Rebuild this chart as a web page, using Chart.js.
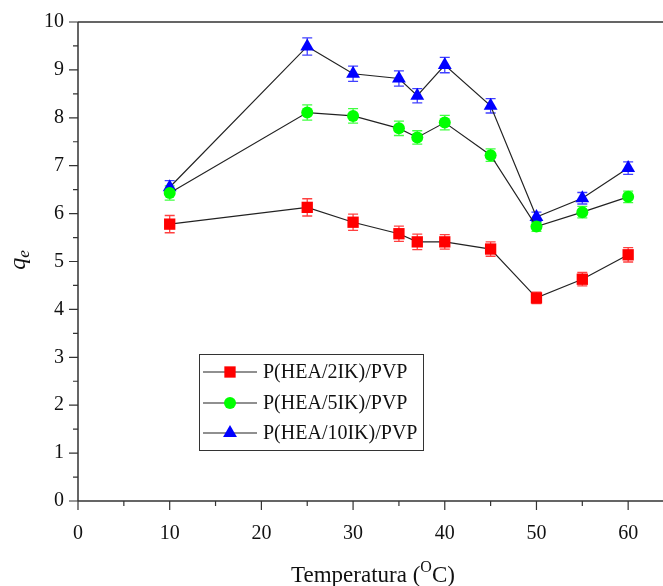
<!DOCTYPE html>
<html>
<head>
<meta charset="utf-8">
<script src="https://cdn.jsdelivr.net/npm/chart.js@4"></script>
<style>
  html, body { margin: 0; padding: 0; background: #fff; overflow: hidden; }
  #wrap { width: 663px; height: 586px; }
  canvas { display: block; }
</style>
</head>
<body>
<div id="wrap"><canvas id="c" width="663" height="586"></canvas></div>
<script>
// temperaturas (°C)
const temps = [10, 25, 30, 35, 37, 40, 45, 50, 55, 60];

// qe por formulación
const qe2IK  = [5.78, 6.13, 5.82, 5.58, 5.41, 5.41, 5.26, 4.24, 4.63, 5.14];
const qe5IK  = [6.43, 8.11, 8.04, 7.78, 7.59, 7.90, 7.22, 5.73, 6.03, 6.35];
const qe10IK = [6.55, 9.49, 8.92, 8.82, 8.46, 9.10, 8.25, 5.93, 6.32, 6.95];

// barras de error
const err2IK  = [0.18, 0.18, 0.17, 0.16, 0.16, 0.15, 0.15, 0.12, 0.14, 0.15];
const err5IK  = [0.15, 0.16, 0.15, 0.15, 0.14, 0.15, 0.13, 0.10, 0.12, 0.12];
const err10IK = [0.14, 0.18, 0.16, 0.16, 0.15, 0.16, 0.15, 0.10, 0.12, 0.13];

const seriesNames = ['P(HEA/2IK)/PVP', 'P(HEA/5IK)/PVP', 'P(HEA/10IK)/PVP'];

// ticks
const xTicks = [0, 10, 20, 30, 40, 50, 60];
const xMinor = [5, 15, 25, 35, 45, 55];
const yTicks = [0, 1, 2, 3, 4, 5, 6, 7, 8, 9, 10];
const yMinor = [0.5, 1.5, 2.5, 3.5, 4.5, 5.5, 6.5, 7.5, 8.5, 9.5];

const SERIF = '"Liberation Serif", "Times New Roman", serif';
const AXIS = '#333';

function pts(ys) {
    return temps.map((t, i) => ({ x: t, y: ys[i] }));
}

function mkSet(label, ys, errs, color, style, radius) {
    return {
        label: label,
        data: pts(ys),
        errors: errs,
        borderColor: '#222',
        borderWidth: 1.2,
        pointStyle: style,
        pointRadius: radius,
        pointHoverRadius: radius,
        pointBackgroundColor: color,
        pointBorderColor: color,
        pointBorderWidth: 0,
        tension: 0,
        fill: false
    };
}

// barras de error (debajo de los marcadores)
const errorBars = {
    id: 'errorBars',
    beforeDatasetsDraw: (chart) => {
        const ctx = chart.ctx;
        const xs = chart.scales.x, ys = chart.scales.y;
        chart.data.datasets.forEach((ds) => {
            ctx.save();
            ctx.strokeStyle = ds.pointBackgroundColor;
            ctx.globalAlpha = 0.75;
            ctx.lineWidth = 1.3;
            ds.data.forEach((p, i) => {
                const e = ds.errors[i];
                const px = xs.getPixelForValue(p.x);
                const top = ys.getPixelForValue(p.y + e);
                const bot = ys.getPixelForValue(p.y - e);
                ctx.beginPath();
                ctx.moveTo(px, top); ctx.lineTo(px, bot);
                ctx.moveTo(px - 5, top); ctx.lineTo(px + 5, top);
                ctx.moveTo(px - 5, bot); ctx.lineTo(px + 5, bot);
                ctx.stroke();
            });
            ctx.restore();
        });
    }
};

// marco, marcas de ejes, leyenda y títulos
const frame = {
    id: 'frame',
    afterDraw: (chart) => {
        const ctx = chart.ctx;
        const a = chart.chartArea;
        const xs = chart.scales.x, ys = chart.scales.y;

        ctx.save();
        ctx.strokeStyle = AXIS;
        ctx.lineWidth = 1.5;
        ctx.beginPath();
        ctx.moveTo(a.left, a.top); ctx.lineTo(a.right, a.top);
        ctx.moveTo(a.left, a.top); ctx.lineTo(a.left, a.bottom);
        ctx.moveTo(a.left, a.bottom); ctx.lineTo(a.right, a.bottom);
        ctx.stroke();

        ctx.lineWidth = 1.2;
        ctx.beginPath();
        xTicks.forEach(v => { const p = xs.getPixelForValue(v); ctx.moveTo(p, a.bottom); ctx.lineTo(p, a.bottom + 9); });
        xMinor.forEach(v => { const p = xs.getPixelForValue(v); ctx.moveTo(p, a.bottom); ctx.lineTo(p, a.bottom + 5); });
        yTicks.forEach(v => { const p = ys.getPixelForValue(v); ctx.moveTo(a.left, p); ctx.lineTo(a.left - 9, p); });
        yMinor.forEach(v => { const p = ys.getPixelForValue(v); ctx.moveTo(a.left, p); ctx.lineTo(a.left - 5, p); });
        ctx.stroke();
        ctx.restore();

        // leyenda
        ctx.save();
        ctx.strokeStyle = AXIS;
        ctx.lineWidth = 1;
        ctx.strokeRect(199.5, 354.5, 224, 96);
        const rowY = [372, 403, 433];
        chart.data.datasets.forEach((ds, i) => {
            const y = rowY[i];
            ctx.strokeStyle = '#222';
            ctx.lineWidth = 1.2;
            ctx.beginPath();
            ctx.moveTo(203, y); ctx.lineTo(257, y);
            ctx.stroke();
            ctx.fillStyle = ds.pointBackgroundColor;
            ctx.strokeStyle = ds.pointBackgroundColor;
            Chart.helpers.drawPoint(ctx, { pointStyle: ds.pointStyle, radius: ds.pointRadius, rotation: 0, borderWidth: 0 }, 230, y);
            ctx.fillStyle = '#111';
            ctx.font = '20px ' + SERIF;
            ctx.textAlign = 'left';
            ctx.textBaseline = 'middle';
            ctx.fillText(seriesNames[i], 263, y + 1);
        });
        ctx.restore();

        // título eje x con superíndice
        ctx.save();
        ctx.fillStyle = '#111';
        ctx.textBaseline = 'alphabetic';
        ctx.textAlign = 'left';
        const big = '23px ' + SERIF, small = '16px ' + SERIF;
        const s1 = 'Temperatura (', s2 = 'O', s3 = 'C)';
        ctx.font = big; const w1 = ctx.measureText(s1).width, w3 = ctx.measureText(s3).width;
        ctx.font = small; const w2 = ctx.measureText(s2).width;
        let x0 = 373 - (w1 + w2 + w3) / 2;
        const base = 582;
        ctx.font = big; ctx.fillText(s1, x0, base);
        ctx.font = small; ctx.fillText(s2, x0 + w1, base - 10);
        ctx.font = big; ctx.fillText(s3, x0 + w1 + w2, base);
        ctx.restore();

        // título eje y: q_e
        ctx.save();
        ctx.translate(25, 260);
        ctx.rotate(-Math.PI / 2);
        ctx.fillStyle = '#111';
        ctx.textBaseline = 'alphabetic';
        ctx.textAlign = 'left';
        ctx.font = 'italic 24px ' + SERIF;
        const wq = ctx.measureText('q').width;
        ctx.font = 'italic 17px ' + SERIF;
        const we = ctx.measureText('e').width;
        const sx = -(wq + we) / 2;
        ctx.font = 'italic 24px ' + SERIF;
        ctx.fillText('q', sx, 0);
        ctx.font = 'italic 17px ' + SERIF;
        ctx.fillText('e', sx + wq, 4);
        ctx.restore();
    }
};

new Chart(document.getElementById('c'), {
    type: 'line',
    data: {
        datasets: [
            mkSet(seriesNames[0], qe2IK, err2IK, '#ff0000', 'rect', 8),
            mkSet(seriesNames[1], qe5IK, err5IK, '#00ff00', 'circle', 6),
            mkSet(seriesNames[2], qe10IK, err10IK, '#0000ff', 'triangle', 8)
        ]
    },
    options: {
        responsive: false,
        animation: false,
        plugins: {
            legend: { display: false },
            tooltip: { enabled: false }
        },
        layout: { autoPadding: false, padding: { top: 22, right: 0, left: 0, bottom: 0 } },
        scales: {
            x: {
                type: 'linear',
                min: 0,
                max: 63.8,
                afterFit: (s) => { s.height = 85; s.paddingLeft = 0; s.paddingRight = 0; },
                afterBuildTicks: (s) => { s.ticks = xTicks.map(v => ({ value: v })); },
                grid: { display: false, drawTicks: false },
                border: { display: false },
                ticks: {
                    padding: 21,
                    color: '#111',
                    font: { family: SERIF, size: 20 },
                    maxRotation: 0,
                    autoSkip: false
                }
            },
            y: {
                min: 0,
                max: 10,
                afterFit: (s) => { s.width = 78; s.paddingTop = 0; s.paddingBottom = 0; },
                afterBuildTicks: (s) => { s.ticks = yTicks.map(v => ({ value: v })); },
                grid: { display: false, drawTicks: false },
                border: { display: false },
                ticks: {
                    padding: 14,
                    color: '#111',
                    font: { family: SERIF, size: 20 },
                    autoSkip: false
                }
            }
        }
    },
    plugins: [errorBars, frame]
});
</script>
</body>
</html>
